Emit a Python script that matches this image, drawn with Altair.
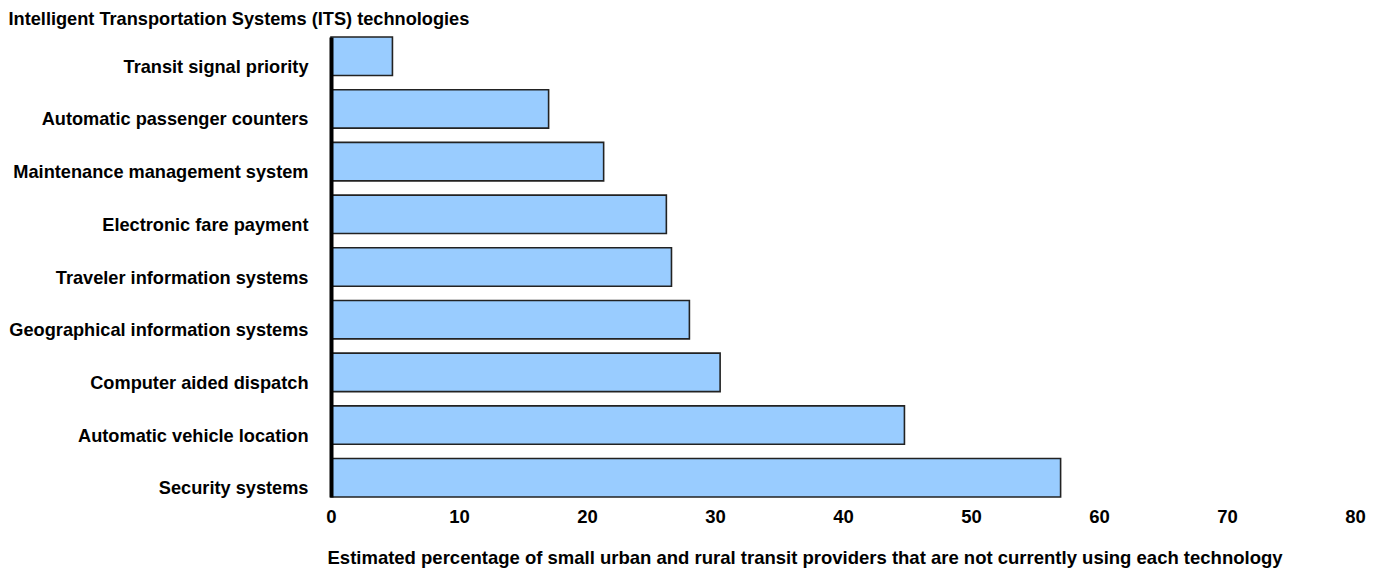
import altair as alt
import pandas as pd

categories = [
    "Transit signal priority",
    "Automatic passenger counters",
    "Maintenance management system",
    "Electronic fare payment",
    "Traveler information systems",
    "Geographical information systems",
    "Computer aided dispatch",
    "Automatic vehicle location",
    "Security systems",
]
values = [4.8, 17.0, 21.3, 26.2, 26.6, 28.0, 30.4, 44.8, 57.0]
x_ticks = [0, 10, 20, 30, 40, 50, 60, 70, 80]

df = pd.DataFrame({"tech": categories, "pct": values})

FONT = "Liberation Sans"
FS = 18.5
FS_Y = 18.2

chart = alt.Chart(df).mark_bar(
    fill="#99CCFF", stroke="#222222", strokeWidth=1.6
).encode(
    x=alt.X(
        "pct:Q",
        scale=alt.Scale(domain=[0, 80], nice=False, zero=True),
        axis=alt.Axis(
            values=x_ticks,
            format="d",
            grid=False,
            domain=False,
            ticks=False,
            tickSize=0,
            labelFlush=False,
            labelFont=FONT,
            labelFontSize=FS,
            labelFontWeight="bold",
            labelColor="black",
            labelPadding=10,
            title="Estimated percentage of small urban and rural transit providers that are not currently using each technology",
            titleFont=FONT,
            titleFontSize=FS,
            titleFontWeight="bold",
            titleColor="black",
            titleAlign="left",
            titleAnchor="start",
            titleBaseline="alphabetic",
            titleX=-4,
            titleY=66,
        ),
    ),
    y=alt.Y(
        "tech:N",
        sort=None,
        scale=alt.Scale(paddingInner=0.27, paddingOuter=0),
        axis=alt.Axis(
            grid=False,
            ticks=False,
            tickSize=0,
            domain=True,
            domainColor="black",
            domainWidth=4,
            labelFont=FONT,
            labelFontSize=FS_Y,
            labelFontWeight="bold",
            labelColor="black",
            labelPadding=23,
            labelOffset=11.5,
            labelLimit=500,
            zindex=1,
            title="Intelligent Transportation Systems (ITS) technologies",
            titleFont=FONT,
            titleFontSize=FS_Y,
            titleFontWeight="bold",
            titleColor="black",
            titleAngle=0,
            titleAlign="left",
            titleBaseline="alphabetic",
            titleX=-323,
            titleY=-13,
        ),
    ),
).properties(
    width=1024,
    height=460,
    autosize=alt.AutoSizeParams(type="none"),
    padding={"left": 323, "top": 29, "right": 12, "bottom": 72},
    background="white",
).configure_view(stroke=None, strokeWidth=0)

chart.save("out.html", embed_options={"renderer": "svg", "actions": False})
